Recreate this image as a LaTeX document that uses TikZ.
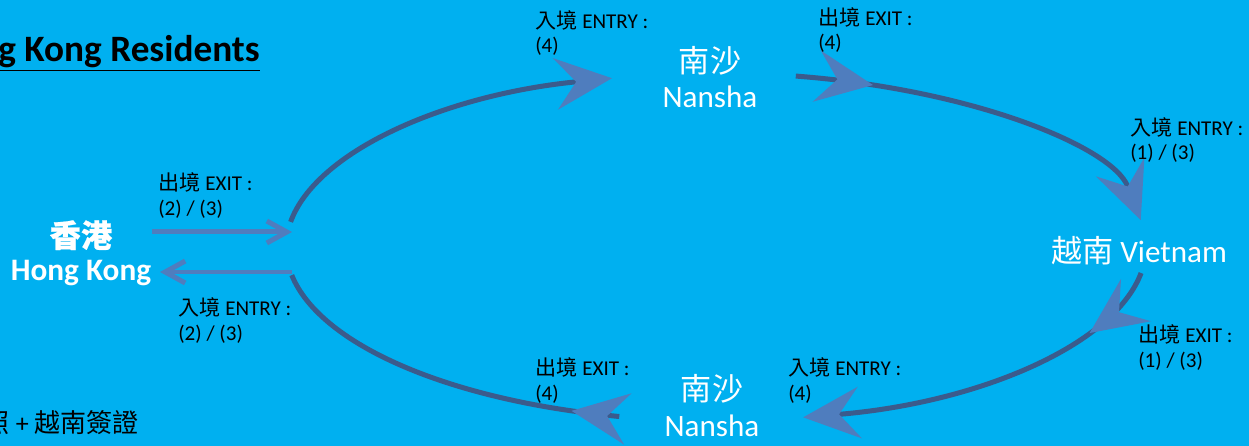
\documentclass[tikz,border=0pt]{standalone}
\usepackage{fontspec}
\setmainfont{Carlito}
\newfontfamily\cjk{Noto Sans CJK TC}
\newfontfamily\cjkmid{Noto Sans CJK TC}[FakeBold=0.7]
\usetikzlibrary{arrows.meta,calc,decorations.markings}
\definecolor{skyback}{HTML}{00B0F0}
\definecolor{routeline}{HTML}{3B5B8C}
\definecolor{headblue}{HTML}{4F7DBE}
\tikzset{
  bighead/.tip={Stealth[length=1.14cm,width=1.04cm,inset=0.42cm,color=headblue,line width=0pt]},
  hkhead/.tip={Straight Barb[length=0.4cm,width=0.44cm]},
}
\begin{document}
\begin{tikzpicture}[x=0.02cm,y=-0.02cm,
  route/.style={draw=routeline,line width=0.1cm},
  midhead/.style={postaction={decorate},
    decoration={markings,mark=at position #1 with {\arrow{bighead}}}},
  hkline/.style={draw=headblue,line width=0.1cm},
  lbl/.style={anchor=base west,inner sep=0pt,align=left,
    font=\fontsize{12}{14.2}\selectfont},
  place/.style={anchor=base,inner sep=0pt,align=center,text=white,
    font=\fontsize{17.7}{20.4}\selectfont},
]
\useasboundingbox (0,0) rectangle (1249,446);
\clip (0,0) rectangle (1249,446);
\fill[skyback] (0,0) rectangle (1249,446);

% points on the ring
\coordinate (ctr) at (716,247);
\coordinate (hkUp) at ($(ctr)+(171.7:8.6cm and 3.48cm)$);
\coordinate (nsNout) at ($(ctr)+(79.3:8.6cm and 3.48cm)$);
\coordinate (vnOut) at ($(ctr)+(-8.6:8.6cm and 3.48cm)$);
\coordinate (nsSout) at ($(ctr)+(-103:8.6cm and 3.48cm)$);

% the ring, clockwise
\draw[route,-{bighead}] (hkUp) arc[start angle=171.7,end angle=104,x radius=8.6cm,y radius=3.48cm];
\draw[route,midhead=0.2,-{bighead}] (nsNout) arc[start angle=79.3,end angle=8.9,x radius=8.6cm,y radius=3.48cm];
\draw[route,midhead=0.21,-{bighead}] (vnOut) arc[start angle=-8.6,end angle=-78.3,x radius=8.6cm,y radius=3.48cm];
\draw[route,midhead=0.13] (nsSout) arc[start angle=-103,end angle=-170.7,x radius=8.6cm,y radius=3.48cm];

% Hong Kong in and out
\coordinate (hkOutA) at (152,232);
\coordinate (hkOutB) at (292,232);
\coordinate (hkInA) at (292,272);
\coordinate (hkInB) at (160,272);
\draw[hkline,-{hkhead}] (hkOutA) -- (hkOutB);
\draw[hkline,-{hkhead}] (hkInA) -- (hkInB);

% places (base = last line)
\node[place] (nsN) at (710,108) {{\cjk 南沙}\\Nansha};
\node[place] (vn) at (1139,262) {{\cjk 越南} Vietnam};
\node[place] (nsS) at (712,436) {{\cjk 南沙}\\Nansha};
\node[place,font=\bfseries\fontsize{17.8}{18.7}\selectfont] (hk) at (81,280) {{\cjkmid 香港}\\Hong Kong};

% labels
\node[lbl] (entN) at (535,53) {{\cjk 入境} ENTRY :\\(4)};
\node[lbl] (exitN) at (818,50) {{\cjk 出境} EXIT :\\(4)};
\node[lbl] (entV) at (1130,160) {{\cjk 入境} ENTRY :\\(1) / (3)};
\node[lbl] (exitV) at (1138,367) {{\cjk 出境} EXIT :\\(1) / (3)};
\node[lbl] (exitS) at (535,400) {{\cjk 出境} EXIT :\\(4)};
\node[lbl] (entS) at (788,400) {{\cjk 入境} ENTRY :\\(4)};
\node[lbl] (exitHK) at (158,215) {{\cjk 出境} EXIT :\\(2) / (3)};
\node[lbl] (entHK) at (178,340) {{\cjk 入境} ENTRY :\\(2) / (3)};

% title and note
\node[anchor=base west,inner sep=0pt,font=\bfseries\fontsize{21.2}{24}\selectfont] (title) at (-2,62) {\underline{g Kong Residents}};
\node[anchor=east,inner sep=0pt,font=\fontsize{14.8}{17}\selectfont] (visa) at (139,422.5) {{\cjk 照} + {\cjk 越南簽證}};
\end{tikzpicture}
\end{document}
